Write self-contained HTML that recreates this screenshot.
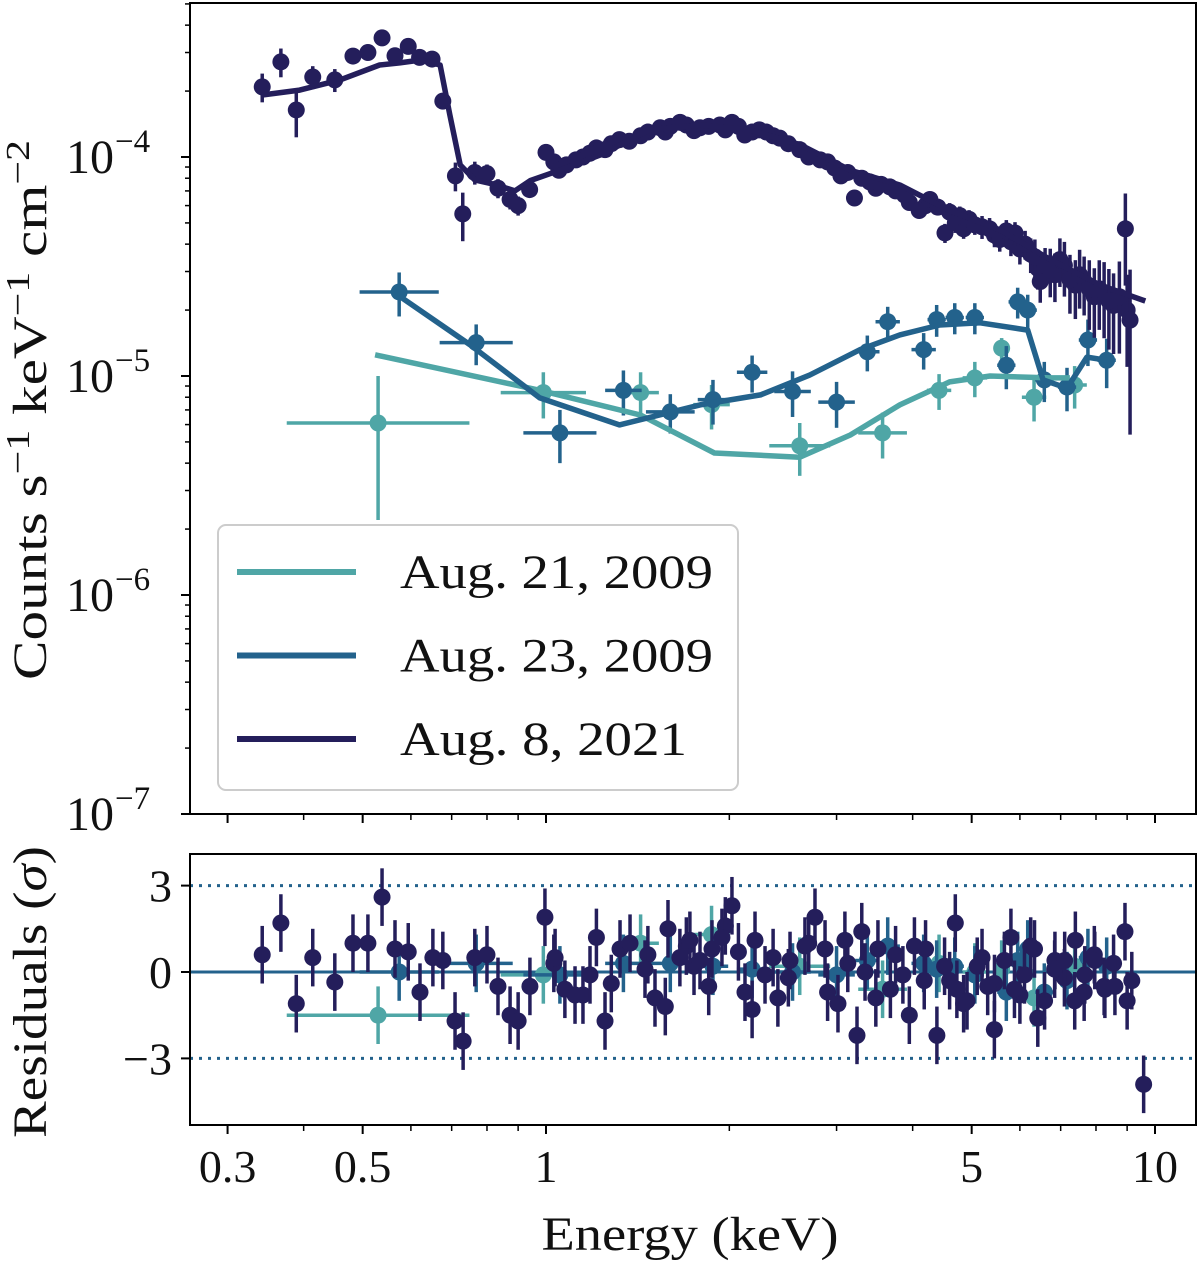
<!DOCTYPE html>
<html><head><meta charset="utf-8"><style>
html,body{margin:0;padding:0;background:#fff}
svg{display:block}
text{font-family:"Liberation Serif","DejaVu Serif",serif;fill:#111}
</style></head><body>
<svg id="fig" width="1200" height="1264" viewBox="0 0 1200 1264" xmlns="http://www.w3.org/2000/svg">
<g id="g-top"></g>
<g id="g-res"></g>
<g id="g-axes"></g>
</svg>
<script>
// ---------- data ----------
const darkE = [0.342,0.367,0.389,0.414,0.450,0.482,0.510,0.538,0.565,0.594,0.62,0.65,0.677,0.71,0.73,0.764,0.80,0.834,0.873,0.90,0.94,1.0,1.05,1.08,1.12,1.18,1.25,1.32,1.37,1.43,1.54,1.6,1.66,1.79,1.93,2.02,2.12,2.24,2.3,2.42,2.61,2.82,2.98,3.05,3.21,3.4,3.55,3.67,3.88,4.1,4.27,4.4,4.52,4.78,4.95,5.06,5.35,5.56,5.7,5.89,6.12,6.35,6.48,6.6,6.73,6.98,7.25,7.52,7.8,8.1,8.4,8.74,8.94,9.1];
const darkF = [2.09e-4,2.72e-4,1.64e-4,2.32e-4,2.25e-4,2.89e-4,3.0e-4,3.5e-4,2.9e-4,3.2e-4,2.85e-4,2.8e-4,1.8e-4,8.2e-5,5.5e-5,8.5e-5,8.4e-5,7.2e-5,6.4e-5,6.0e-5,7.1e-5,1.05e-4,8.7e-5,9.2e-5,9.7e-5,1.04e-4,1.08e-4,1.2e-4,1.18e-4,1.25e-4,1.36e-4,1.38e-4,1.44e-4,1.36e-4,1.4e-4,1.44e-4,1.26e-4,1.33e-4,1.3e-4,1.22e-4,1.08e-4,9.7e-5,8.9e-5,8.2e-5,6.5e-5,7.7e-5,7.5e-5,7.3e-5,6.7e-5,5.7e-5,6.4e-5,5.9e-5,4.5e-5,5.4e-5,5.2e-5,4.9e-5,4.7e-5,4.2e-5,4.6e-5,4.5e-5,4.0e-5,3.5e-5,2.7e-5,3.2e-5,3.05e-5,3.4e-5,2.75e-5,2.9e-5,2.5e-5,2.5e-5,2.2e-5,2.3e-5,4.7e-5,1.8e-5];
const darkRel = [.15,.15,.25,.12,.12,.08,.08,.05,.08,.08,.06,.06,.06,.15,.25,.12,.1,.1,.1,.1,.08,.06,.06,.06,.05,.05,.05,.05,.05,.05,.05,.05,.05,.05,.05,.05,.05,.05,.05,.05,.06,.06,.06,.06,.08,.07,.07,.07,.08,.08,.08,.08,.1,.1,.1,.1,.12,.12,.12,.12,.15,.2,.2,.2,.25,.25,.3,.3,.35,.35,.4,.45,.45,.7];
const darkE2 = [1.03,1.15,1.21,1.28,1.47,1.57,1.7,1.75,1.85,1.97,2.07,2.18,2.36,2.5,2.7,2.9,3.13,3.3,3.48,3.75,3.95,4.2,4.6,4.7,4.85,5.2,5.45,5.8,6.0,6.25,6.42,6.85,7.1,7.4,7.65,7.95,8.25,8.55,9.0];
const darkF2 = [9.5e-5,1.0e-4,1.1e-4,1.15e-4,1.3e-4,1.3e-4,1.4e-4,1.32e-4,1.38e-4,1.33e-4,1.38e-4,1.3e-4,1.25e-4,1.15e-4,1.0e-4,9.5e-5,8.5e-5,8.0e-5,7.2e-5,7.0e-5,6.2e-5,6.0e-5,5.6e-5,5.0e-5,4.7e-5,4.8e-5,4.4e-5,4.1e-5,3.8e-5,3.6e-5,3.1e-5,2.9e-5,3.2e-5,2.6e-5,2.7e-5,2.3e-5,2.4e-5,2.1e-5,2.0e-5];
const darkRel2 = [.05,.05,.05,.05,.05,.05,.05,.05,.05,.05,.05,.05,.05,.05,.06,.06,.07,.07,.07,.07,.08,.08,.1,.1,.1,.12,.12,.14,.15,.18,.2,.25,.28,.3,.3,.35,.38,.4,.45];
const darkModelE = [0.342,0.394,0.459,0.533,0.575,0.621,0.670,0.695,0.723,0.764,0.824,0.889,0.942,1.054,1.227,1.48,1.79,2.16,2.61,3.16,3.81,4.60,5.56,6.73,8.13,9.64];
const darkModelF = [1.92e-4,2.02e-4,2.25e-4,2.63e-4,2.69e-4,2.77e-4,2.63e-4,1.56e-4,9.2e-5,7.85e-5,7.5e-5,7.0e-5,7.8e-5,8.7e-5,1.02e-4,1.33e-4,1.40e-4,1.33e-4,1.14e-4,8.7e-5,7.45e-5,5.7e-5,4.65e-5,3.4e-5,2.6e-5,2.2e-5];

const midE = [0.574,0.768,1.054,1.34,1.6,1.88,2.18,2.54,3.0,3.37,3.64,4.17,4.38,4.69,5.06,5.7,5.95,6.18,6.58,7.17,7.76,8.33];
const midF = [2.42e-5,1.42e-5,5.5e-6,8.6e-6,6.86e-6,7.8e-6,1.04e-5,8.5e-6,7.6e-6,1.29e-5,1.77e-5,1.32e-5,1.81e-5,1.85e-5,1.85e-5,1.12e-5,2.18e-5,2.0e-5,9.6e-6,8.9e-6,1.46e-5,1.18e-5];
const midSig = [5.5e-6,3e-6,1.5e-6,2e-6,1.4e-6,1.8e-6,2e-6,2e-6,1.8e-6,2.4e-6,3e-6,2.5e-6,3e-6,3e-6,3e-6,2.5e-6,3.5e-6,3.5e-6,2e-6,2e-6,3.5e-6,3e-6];
const midBin = [0.065,0.06,0.06,0.03,0.04,0.025,0.025,0.03,0.03,0.02,0.02,0.02,0.015,0.015,0.015,0.015,0.015,0.015,0.015,0.015,0.015,0.015];
const midModelE = [0.574,0.75,0.977,1.32,1.79,2.25,2.71,3.28,3.81,4.43,5.16,6.18,6.55,7.17,7.73,8.34];
const midModelF = [2.32e-5,1.39e-5,7.94e-6,5.98e-6,7.38e-6,8.2e-6,1.01e-5,1.32e-5,1.54e-5,1.71e-5,1.75e-5,1.62e-5,9.6e-6,8.8e-6,1.22e-5,1.18e-5];

const tealE = [0.53,0.99,1.43,1.87,2.61,3.57,4.42,5.06,5.6,6.33,7.38];
const tealF = [6.1e-6,8.4e-6,8.4e-6,7.4e-6,4.8e-6,5.5e-6,8.6e-6,9.8e-6,1.34e-5,8.0e-6,9.1e-6];
const tealSig = [3.9e-6,2e-6,2e-6,1.7e-6,1.3e-6,1.3e-6,1.6e-6,1.8e-6,1.5e-6,1.8e-6,2e-6];
const tealBin = [0.15,0.07,0.03,0.03,0.05,0.04,0.02,0.02,0.01,0.02,0.02];
const tealModelE = [0.524,0.977,1.43,1.89,2.61,3.16,3.81,4.60,5.36,6.73,7.25];
const tealModelF = [1.25e-5,8.6e-6,6.63e-6,4.45e-6,4.26e-6,5.38e-6,7.38e-6,9.4e-6,1.0e-5,9.8e-6,9.8e-6];

const darkResE = [0.342,0.367,0.389,0.414,0.450,0.482,0.510,0.538,0.565,0.594,0.621,0.652,0.677,0.709,0.731,0.764,0.800,0.834,0.873,0.900,0.941,0.996,1.035,1.074,1.116,1.181,1.250,1.323,1.374,1.454,1.510,1.586,1.659,1.723,1.790,1.873,1.945,2.020,2.122,2.204,2.289,2.403,2.516,2.662,2.765,2.872,3.016,3.096,3.241,3.341,3.508,3.677,3.855,4.027,4.179,4.384,4.513,4.728,4.913,5.106,5.312,5.448,5.659,5.878,6.105,6.341,6.587,6.842,7.107,7.382,7.668,7.964,8.274,8.594,8.927,9.16,9.58];
const darkRes = [0.6,1.7,-1.1,0.5,-0.35,1.0,1.0,2.6,0.8,0.7,-0.7,0.5,0.4,-1.7,-2.4,0.5,0.6,-0.5,-1.5,-1.7,-0.5,1.9,0.5,-0.6,-0.8,-0.1,-1.7,0.8,1.0,0.1,-0.9,1.5,0.5,1.1,0.4,0.8,1.2,2.3,-0.7,1.1,-0.1,-0.9,0.4,0.9,1.9,0.8,-1.1,1.1,-2.2,0.0,0.8,-0.6,-0.1,0.9,-0.3,-2.2,0.2,-0.6,-1.0,0.2,-0.5,-2.0,0.4,-0.6,-0.1,0.8,-1.0,0.1,0.4,-1.0,-0.1,0.4,-0.6,-0.5,1.4,-0.3,-3.9];
const darkRes2 = [0.3,-0.8,1.2,-0.4,0.6,-1.2,0.9,0.2,-0.5,1.6,0.7,-1.3,0.5,-0.2,1.0,-0.7,0.3,1.4,-0.9,0.6,-1.5,0.8,-0.3,1.7,-1.1,0.5,-0.4,1.2,-0.8,0.9,-1.6,0.4,-0.2,1.1,-0.7,0.6,-0.5,0.3,-1.0];
const midRes = [0.0,0.3,-0.1,0.3,0.3,0.2,0.1,0.0,-0.1,0.4,0.9,0.3,0.1,0.2,-0.1,-0.7,0.4,0.8,-0.7,-0.3,0.5,0.2];
const tealRes = [-1.5,-0.1,1.0,1.3,0.2,-0.6,0.3,0.0,0.1,-0.9,0.2];

const xTickVals = [0.3,0.5,1,5,10];
const xTickLabels = ["0.3","0.5","1","5","10"];
const yTopExps = [-4,-5,-6,-7];
const yResTicks = [3,0,-3];
const yResLabels = ["3","0","\u22123"];
const legendLabels = ["Aug. 21, 2009","Aug. 23, 2009","Aug. 8, 2021"];

// ---------- geometry ----------
const C_TEAL="#4fa6a6", C_MID="#23628c", C_DARK="#241e5b";
const L=190, R=1196, T1=3, B1=814, T2=854, B2=1125;
const X0=546, XDEC=609;
function x(E){return X0+XDEC*Math.log10(E);}
const YDEC=219, Y1E4=157;
function y(F){return Y1E4-YDEC*(Math.log10(F)+4);}
const RSC=28.8, R0=972;
function yr(r){return R0-RSC*r;}
const NS="http://www.w3.org/2000/svg";
function mk(tag,attrs,parent){const e=document.createElementNS(NS,tag);for(const k in attrs)e.setAttribute(k,attrs[k]);parent.appendChild(e);return e;}
const gTop=document.getElementById('g-top'), gRes=document.getElementById('g-res'), gAx=document.getElementById('g-axes');

const defs=mk('defs',{},document.getElementById('fig'));
const cp1=mk('clipPath',{id:'c1'},defs); mk('rect',{x:L,y:T1,width:R-L,height:B1-T1},cp1);
const cp2=mk('clipPath',{id:'c2'},defs); mk('rect',{x:L,y:T2,width:R-L,height:B2-T2},cp2);
gTop.setAttribute('clip-path','url(#c1)');
gRes.setAttribute('clip-path','url(#c2)');

function drawPoints(parent,E,F,errLo,errHi,binDex,color,name,resid){
  const g=mk('g',{},parent);
  
  
  for(let i=0;i<E.length;i++){
    const px=x(E[i]);
    let py,y1,y2;
    if(resid){py=yr(F[i]);y1=yr(F[i]+1);y2=yr(F[i]-1);}
    else{py=y(F[i]);const lo=F[i]-errLo[i];y1=y(F[i]+errHi[i]);y2=lo>0?y(lo):B1+20;}
    const eb=mk('line',{x1:px,x2:px,y1:y1,y2:y2,stroke:color,'stroke-width':3.5},g);
    
    
    if(binDex){
      const xb=mk('line',{x1:x(E[i]*Math.pow(10,-binDex[i])),x2:x(E[i]*Math.pow(10,binDex[i])),y1:py,y2:py,stroke:color,'stroke-width':3.5},g);
      
      
    }
    const c=mk('circle',{cx:px,cy:py,r:8.5,fill:color},g);
    
    
  }
}
function drawModel(parent,E,F,color,name){
  const d=E.map((e,i)=>(i?'L':'M')+x(e).toFixed(1)+','+y(F[i]).toFixed(1)).join(' ');
  const p=mk('path',{d:d,fill:'none',stroke:color,'stroke-width':5.5,'stroke-linejoin':'round'},parent);
  
  
}
const darkAbs=darkF.map((f,i)=>f*darkRel[i]);
const darkAbs2=darkF2.map((f,i)=>f*darkRel2[i]);
drawPoints(gTop,tealE,tealF,tealSig,tealSig,tealBin,C_TEAL,'aug21-2009',false);
drawPoints(gTop,midE,midF,midSig,midSig,midBin,C_MID,'aug23-2009',false);
drawPoints(gTop,darkE2,darkF2,darkAbs2,darkAbs2,null,C_DARK,'aug8-2021-extra',false);
drawPoints(gTop,darkE,darkF,darkAbs,darkAbs,null,C_DARK,'aug8-2021',false);
drawModel(gTop,tealModelE,tealModelF,C_TEAL,'aug21-2009');
drawModel(gTop,midModelE,midModelF,C_MID,'aug23-2009');
drawModel(gTop,darkModelE,darkModelF,C_DARK,'aug8-2021');

const z=mk('line',{x1:L,x2:R,y1:yr(0),y2:yr(0),stroke:C_MID,'stroke-width':3},gRes);


[3,-3].forEach(v=>{
  const l=mk('line',{x1:L,x2:R,y1:yr(v),y2:yr(v),stroke:C_MID,'stroke-width':3,'stroke-dasharray':'3,6'},gRes);
  
  
});
drawPoints(gRes,tealE,tealRes,null,null,tealBin,C_TEAL,'aug21-2009-res',true);
drawPoints(gRes,midE,midRes,null,null,midBin,C_MID,'aug23-2009-res',true);
drawPoints(gRes,darkE2,darkRes2,null,null,null,C_DARK,'aug8-2021-res-extra',true);
drawPoints(gRes,darkResE,darkRes,null,null,null,C_DARK,'aug8-2021-res',true);

[[T1,B1,'spectrum-frame'],[T2,B2,'residuals-frame']].forEach(f=>{
  const r=mk('rect',{x:L,y:f[0],width:R-L,height:f[1]-f[0],fill:'none',stroke:'#000','stroke-width':2},gAx);
  
  
});
const minorX=[0.4,0.6,0.7,0.8,0.9,2,3,4,6,7,8,9];
[B1,B2].forEach(by=>{
  xTickVals.forEach(v=>mk('line',{x1:x(v),x2:x(v),y1:by,y2:by+9,stroke:'#000','stroke-width':2},gAx));
  minorX.forEach(v=>mk('line',{x1:x(v),x2:x(v),y1:by,y2:by+6,stroke:'#000','stroke-width':1.5},gAx));
});
xTickVals.forEach((v,i)=>{
  const t=mk('text',{x:x(v),y:1182,'font-size':46,'text-anchor':'middle'},gAx);
  t.textContent=xTickLabels[i];
  
  
});
yTopExps.forEach(ex=>{
  const py=y(Math.pow(10,ex));
  mk('line',{x1:L-9,x2:L,y1:py,y2:py,stroke:'#000','stroke-width':2},gAx);
  const t=mk('text',{x:114,y:py+16,'font-size':48,'text-anchor':'end'},gAx);
  t.textContent='10';
  
  
  const s=mk('text',{x:115,y:py-5,'font-size':33},gAx);
  s.textContent='\u2212'+(-ex);
  for(let m=2;m<=9;m++){
    const my=y(m*Math.pow(10,ex));
    if(my>T1) mk('line',{x1:L-5,x2:L,y1:my,y2:my,stroke:'#000','stroke-width':1.5},gAx);
  }
});
yResTicks.forEach((v,i)=>{
  mk('line',{x1:L-9,x2:L,y1:yr(v),y2:yr(v),stroke:'#000','stroke-width':2},gAx);
  const t=mk('text',{x:172,y:yr(v)+16,'font-size':46,'text-anchor':'end'},gAx);
  t.textContent=yResLabels[i];
  
  
});
const xt=mk('text',{x:690,y:1250,'font-size':48,'text-anchor':'middle',textLength:297,lengthAdjust:'spacingAndGlyphs'},gAx);
xt.textContent='Energy (keV)';


const yt=mk('text',{x:0,y:0,'font-size':48,'text-anchor':'middle',transform:'translate(46,410) rotate(-90)',textLength:540,lengthAdjust:'spacingAndGlyphs'},gAx);
yt.innerHTML='Counts s<tspan dy="-17" font-size="34">\u22121</tspan><tspan dy="17"> keV</tspan><tspan dy="-17" font-size="34">\u22121</tspan><tspan dy="17"> cm</tspan><tspan dy="-17" font-size="34">\u22122</tspan>';


const rt=mk('text',{x:0,y:0,'font-size':48,'text-anchor':'middle',transform:'translate(46,992) rotate(-90)',textLength:292,lengthAdjust:'spacingAndGlyphs'},gAx);
rt.innerHTML='Residuals (<tspan font-style="italic">\u03c3</tspan>)';



const lg=mk('g',{},gAx);


mk('rect',{x:218,y:525,width:520,height:265,rx:8,fill:'#fff','fill-opacity':0.85,stroke:'#ccc','stroke-width':2},lg);
const lcols=[C_TEAL,C_MID,C_DARK];
legendLabels.forEach((lab,i)=>{
  const ly=572+i*83.5;
  const e=mk('g',{},lg);
  
  
  mk('line',{x1:237,x2:356,y1:ly,y2:ly,stroke:lcols[i],'stroke-width':6},e);
  const t=mk('text',{x:400,y:ly+16,'font-size':48,textLength:(i==2?287:313),lengthAdjust:'spacingAndGlyphs'},e);
  t.textContent=lab;
});
</script>
</body></html>
